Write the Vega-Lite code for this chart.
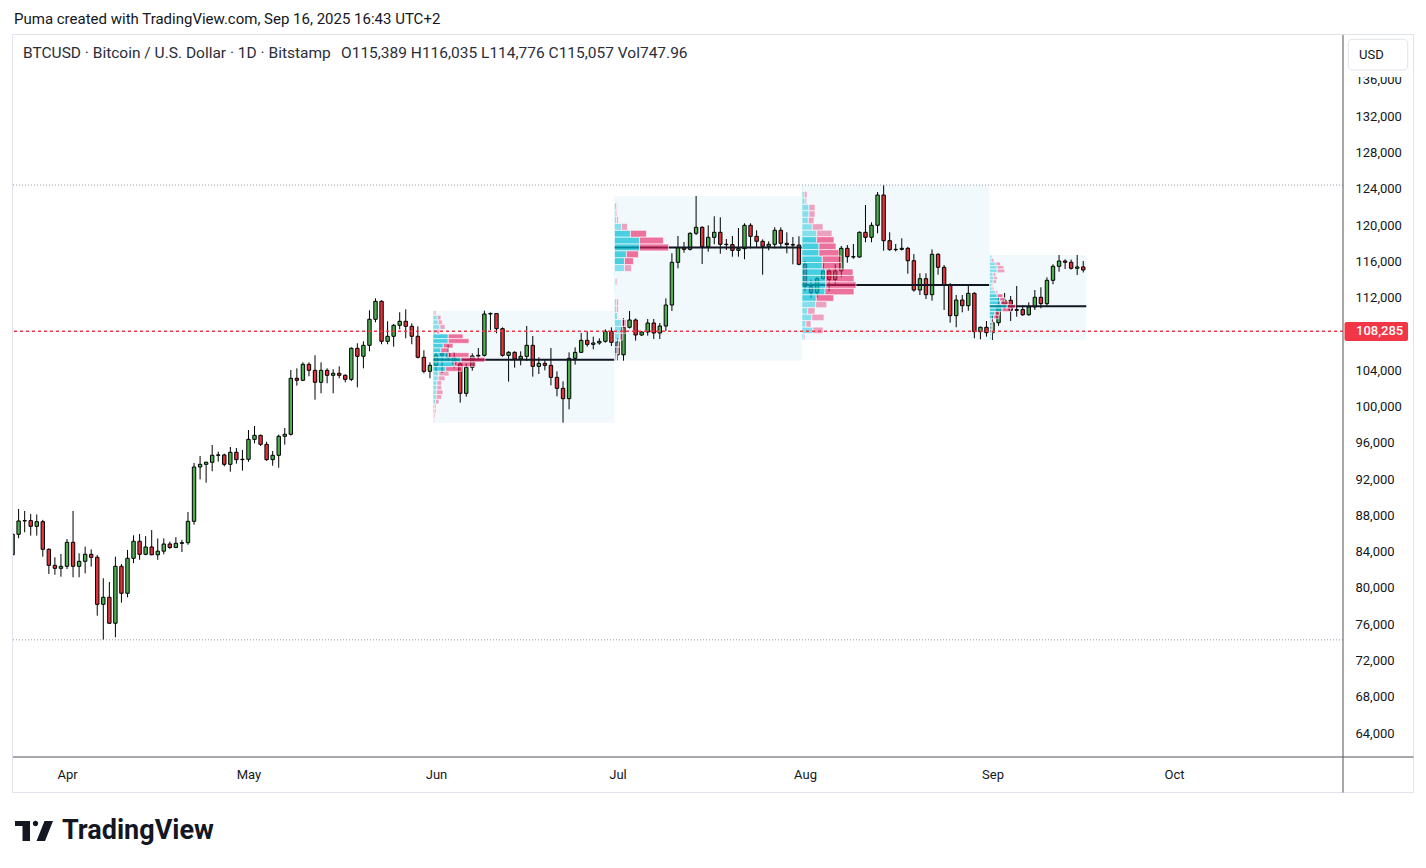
{
"$schema": "https://vega.github.io/schema/vega-lite/v6.json",
"width": 1330, "height": 722,
"autosize": "none",
"padding": {"left": 13, "top": 35, "right": 83, "bottom": 111},
"background": "#ffffff",
"config": {"view": {"stroke": null}, "font": "Roboto", "axis": {"labelFont": "Roboto"}, "text": {"font": "Roboto"}},
"datasets": {
"candles": [
{"d":"2025-03-23","o":83650,"h":86100,"l":83550,"c":85910},
{"d":"2025-03-24","o":85910,"h":88700,"l":85470,"c":87380},
{"d":"2025-03-25","o":87380,"h":88480,"l":86130,"c":87420},
{"d":"2025-03-26","o":87420,"h":88150,"l":85760,"c":86790},
{"d":"2025-03-27","o":86790,"h":88100,"l":85760,"c":87300},
{"d":"2025-03-28","o":87300,"h":87500,"l":83440,"c":84255},
{"d":"2025-03-29","o":84255,"h":84360,"l":81530,"c":82490},
{"d":"2025-03-30","o":82490,"h":83375,"l":81455,"c":82160},
{"d":"2025-03-31","o":82160,"h":83740,"l":81235,"c":82380},
{"d":"2025-04-01","o":82380,"h":85390,"l":82085,"c":85030},
{"d":"2025-04-02","o":85030,"h":88480,"l":81170,"c":82380},
{"d":"2025-04-03","o":82380,"h":83815,"l":81170,"c":82930},
{"d":"2025-04-04","o":82930,"h":84545,"l":81610,"c":83705},
{"d":"2025-04-05","o":83705,"h":84255,"l":82340,"c":83375},
{"d":"2025-04-06","o":83375,"h":83630,"l":76940,"c":78190},
{"d":"2025-04-07","o":78190,"h":81060,"l":74255,"c":78965},
{"d":"2025-04-08","o":78965,"h":80650,"l":76020,"c":76100},
{"d":"2025-04-09","o":76100,"h":83440,"l":74555,"c":82380},
{"d":"2025-04-10","o":82380,"h":82630,"l":78370,"c":79405},
{"d":"2025-04-11","o":79405,"h":84180,"l":78965,"c":83265},
{"d":"2025-04-12","o":83265,"h":85800,"l":82740,"c":85140},
{"d":"2025-04-13","o":85140,"h":85940,"l":83100,"c":83700},
{"d":"2025-04-14","o":83700,"h":85700,"l":83600,"c":84510},
{"d":"2025-04-15","o":84510,"h":86380,"l":83600,"c":83650},
{"d":"2025-04-16","o":83650,"h":85450,"l":83100,"c":84050},
{"d":"2025-04-17","o":84050,"h":85450,"l":83700,"c":84840},
{"d":"2025-04-18","o":84840,"h":85100,"l":84300,"c":84450},
{"d":"2025-04-19","o":84450,"h":85600,"l":84400,"c":84915},
{"d":"2025-04-20","o":84915,"h":85300,"l":83950,"c":84985},
{"d":"2025-04-21","o":84985,"h":88370,"l":84760,"c":87340},
{"d":"2025-04-22","o":87340,"h":93770,"l":86970,"c":93330},
{"d":"2025-04-23","o":93330,"h":94540,"l":91970,"c":93625},
{"d":"2025-04-24","o":93625,"h":93920,"l":91600,"c":93850},
{"d":"2025-04-25","o":93850,"h":95755,"l":92855,"c":94620},
{"d":"2025-04-26","o":94620,"h":95020,"l":93920,"c":94660},
{"d":"2025-04-27","o":94660,"h":94800,"l":93400,"c":93625},
{"d":"2025-04-28","o":93625,"h":95535,"l":92810,"c":94950},
{"d":"2025-04-29","o":94950,"h":95425,"l":93700,"c":94140},
{"d":"2025-04-30","o":94140,"h":95200,"l":92925,"c":94180},
{"d":"2025-05-01","o":94180,"h":97410,"l":93900,"c":96380},
{"d":"2025-05-02","o":96380,"h":97850,"l":95940,"c":96820},
{"d":"2025-05-03","o":96820,"h":96900,"l":95645,"c":95830},
{"d":"2025-05-04","o":95830,"h":96120,"l":94000,"c":94140},
{"d":"2025-05-05","o":94140,"h":95090,"l":93475,"c":94620},
{"d":"2025-05-06","o":94620,"h":96900,"l":93250,"c":96715},
{"d":"2025-05-07","o":96715,"h":97630,"l":95790,"c":96935},
{"d":"2025-05-08","o":96935,"h":104025,"l":96800,"c":103110},
{"d":"2025-05-09","o":103110,"h":104210,"l":102295,"c":102890},
{"d":"2025-05-10","o":102890,"h":104870,"l":102800,"c":104650},
{"d":"2025-05-11","o":104650,"h":104870,"l":103330,"c":103990},
{"d":"2025-05-12","o":103990,"h":105645,"l":100750,"c":102670},
{"d":"2025-05-13","o":102670,"h":104870,"l":101455,"c":103990},
{"d":"2025-05-14","o":103990,"h":104210,"l":102560,"c":103440},
{"d":"2025-05-15","o":103440,"h":104100,"l":101455,"c":103660},
{"d":"2025-05-16","o":103660,"h":104430,"l":103110,"c":103440},
{"d":"2025-05-17","o":103440,"h":103550,"l":102670,"c":102995},
{"d":"2025-05-18","o":102995,"h":106525,"l":102800,"c":106415},
{"d":"2025-05-19","o":106415,"h":106970,"l":102115,"c":105535},
{"d":"2025-05-20","o":105535,"h":107190,"l":104210,"c":106745},
{"d":"2025-05-21","o":106745,"h":110605,"l":106085,"c":109615},
{"d":"2025-05-22","o":109615,"h":111930,"l":109285,"c":111600},
{"d":"2025-05-23","o":111600,"h":111710,"l":106860,"c":107190},
{"d":"2025-05-24","o":107190,"h":109395,"l":106860,"c":107740},
{"d":"2025-05-25","o":107740,"h":109100,"l":106595,"c":108950},
{"d":"2025-05-26","o":108950,"h":110385,"l":108510,"c":109395},
{"d":"2025-05-27","o":109395,"h":110715,"l":107520,"c":108840},
{"d":"2025-05-28","o":108840,"h":109175,"l":106860,"c":107740},
{"d":"2025-05-29","o":107740,"h":108840,"l":105300,"c":105425},
{"d":"2025-05-30","o":105425,"h":106195,"l":103660,"c":103880},
{"d":"2025-05-31","o":103880,"h":104870,"l":103110,"c":104540},
{"d":"2025-06-01","o":104540,"h":105900,"l":103800,"c":105650},
{"d":"2025-06-02","o":105650,"h":105980,"l":103700,"c":105850},
{"d":"2025-06-03","o":105850,"h":106800,"l":105000,"c":105400},
{"d":"2025-06-04","o":105400,"h":106000,"l":104200,"c":104700},
{"d":"2025-06-05","o":104700,"h":105127,"l":100422,"c":101452},
{"d":"2025-06-06","o":101452,"h":104759,"l":101084,"c":104318},
{"d":"2025-06-07","o":104318,"h":105862,"l":103950,"c":105568},
{"d":"2025-06-08","o":105568,"h":106450,"l":105127,"c":105640},
{"d":"2025-06-09","o":105640,"h":110565,"l":105494,"c":110198},
{"d":"2025-06-10","o":110198,"h":110382,"l":108434,"c":110250},
{"d":"2025-06-11","o":110250,"h":110272,"l":108067,"c":108581},
{"d":"2025-06-12","o":108581,"h":108728,"l":105494,"c":105641},
{"d":"2025-06-13","o":105641,"h":106100,"l":102738,"c":105972},
{"d":"2025-06-14","o":105972,"h":106082,"l":104281,"c":105237},
{"d":"2025-06-15","o":105237,"h":106082,"l":104539,"c":105531},
{"d":"2025-06-16","o":105531,"h":108875,"l":105016,"c":106744},
{"d":"2025-06-17","o":106744,"h":107773,"l":103289,"c":104428},
{"d":"2025-06-18","o":104428,"h":105421,"l":103583,"c":104759},
{"d":"2025-06-19","o":104759,"h":105127,"l":103988,"c":104539},
{"d":"2025-06-20","o":104539,"h":106450,"l":102334,"c":103216},
{"d":"2025-06-21","o":103216,"h":103877,"l":101121,"c":102003},
{"d":"2025-06-22","o":102003,"h":102775,"l":98217,"c":100864},
{"d":"2025-06-23","o":100864,"h":105972,"l":99688,"c":105310},
{"d":"2025-06-24","o":105310,"h":106523,"l":104612,"c":105972},
{"d":"2025-06-25","o":105972,"h":108103,"l":105900,"c":107295},
{"d":"2025-06-26","o":107295,"h":108287,"l":106596,"c":106854},
{"d":"2025-06-27","o":106854,"h":107699,"l":106303,"c":107001},
{"d":"2025-06-28","o":107001,"h":107515,"l":106817,"c":107185},
{"d":"2025-06-29","o":107185,"h":108508,"l":107038,"c":108287},
{"d":"2025-06-30","o":108287,"h":108728,"l":106670,"c":107075},
{"d":"2025-07-01","o":107075,"h":107500,"l":105100,"c":105700},
{"d":"2025-07-02","o":105700,"h":109725,"l":105050,"c":108733},
{"d":"2025-07-03","o":108733,"h":110530,"l":108600,"c":109540},
{"d":"2025-07-04","o":109540,"h":109700,"l":107260,"c":107883},
{"d":"2025-07-05","o":107883,"h":108300,"l":107780,"c":108214},
{"d":"2025-07-06","o":108214,"h":109647,"l":107810,"c":109206},
{"d":"2025-07-07","o":109206,"h":109647,"l":107442,"c":108103},
{"d":"2025-07-08","o":108103,"h":109206,"l":107442,"c":108875},
{"d":"2025-07-09","o":108875,"h":111925,"l":108324,"c":111190},
{"d":"2025-07-10","o":111190,"h":116890,"l":110530,"c":115898},
{"d":"2025-07-11","o":115898,"h":118800,"l":115236,"c":117510},
{"d":"2025-07-12","o":117510,"h":118140,"l":116956,"c":117330},
{"d":"2025-07-13","o":117330,"h":119200,"l":117200,"c":119095},
{"d":"2025-07-14","o":119095,"h":123208,"l":118908,"c":119757},
{"d":"2025-07-15","o":119757,"h":119870,"l":115710,"c":117620},
{"d":"2025-07-16","o":117620,"h":119977,"l":117067,"c":118650},
{"d":"2025-07-17","o":118650,"h":120970,"l":117885,"c":119205},
{"d":"2025-07-18","o":119205,"h":120860,"l":116846,"c":117885},
{"d":"2025-07-19","o":117885,"h":118467,"l":117254,"c":117850},
{"d":"2025-07-20","o":117850,"h":118800,"l":116515,"c":117215},
{"d":"2025-07-21","o":117215,"h":119680,"l":116515,"c":117400},
{"d":"2025-07-22","o":117400,"h":120200,"l":116230,"c":119977},
{"d":"2025-07-23","o":119977,"h":120200,"l":117440,"c":118765},
{"d":"2025-07-24","o":118765,"h":119426,"l":117550,"c":118213},
{"d":"2025-07-25","o":118213,"h":118430,"l":114530,"c":117660},
{"d":"2025-07-26","o":117660,"h":118213,"l":117215,"c":117885},
{"d":"2025-07-27","o":117885,"h":119757,"l":117440,"c":119426},
{"d":"2025-07-28","o":119426,"h":119757,"l":117440,"c":117995},
{"d":"2025-07-29","o":117995,"h":119205,"l":116890,"c":117850},
{"d":"2025-07-30","o":117850,"h":118688,"l":115677,"c":117800},
{"d":"2025-07-31","o":117800,"h":118765,"l":115567,"c":115677},
{"d":"2025-08-01","o":115677,"h":116050,"l":112700,"c":113250},
{"d":"2025-08-02","o":113250,"h":114000,"l":112000,"c":112550},
{"d":"2025-08-03","o":112550,"h":114300,"l":112000,"c":114090},
{"d":"2025-08-04","o":114090,"h":115786,"l":114000,"c":114939},
{"d":"2025-08-05","o":114939,"h":115200,"l":112700,"c":114000},
{"d":"2025-08-06","o":114000,"h":115700,"l":113350,"c":114950},
{"d":"2025-08-07","o":114950,"h":117700,"l":114250,"c":117442},
{"d":"2025-08-08","o":117442,"h":117805,"l":115855,"c":116515},
{"d":"2025-08-09","o":116515,"h":117915,"l":116300,"c":116480},
{"d":"2025-08-10","o":116480,"h":119300,"l":116400,"c":119205},
{"d":"2025-08-11","o":119205,"h":122215,"l":118103,"c":118655},
{"d":"2025-08-12","o":118655,"h":120308,"l":118103,"c":119977},
{"d":"2025-08-13","o":119977,"h":123649,"l":119095,"c":123318},
{"d":"2025-08-14","o":123318,"h":124420,"l":117180,"c":118280},
{"d":"2025-08-15","o":118280,"h":119205,"l":117180,"c":117290},
{"d":"2025-08-16","o":117290,"h":117915,"l":117100,"c":117330},
{"d":"2025-08-17","o":117330,"h":118545,"l":117200,"c":117440},
{"d":"2025-08-18","o":117440,"h":117600,"l":114640,"c":116075},
{"d":"2025-08-19","o":116075,"h":116800,"l":112660,"c":112844},
{"d":"2025-08-20","o":112844,"h":114685,"l":112293,"c":114090},
{"d":"2025-08-21","o":114090,"h":114685,"l":111852,"c":112330},
{"d":"2025-08-22","o":112330,"h":117330,"l":111667,"c":116780},
{"d":"2025-08-23","o":116780,"h":116900,"l":114530,"c":115346},
{"d":"2025-08-24","o":115346,"h":115600,"l":110640,"c":113395},
{"d":"2025-08-25","o":113395,"h":113600,"l":109240,"c":110015},
{"d":"2025-08-26","o":110015,"h":112293,"l":108733,"c":111740},
{"d":"2025-08-27","o":111740,"h":112293,"l":110385,"c":111115},
{"d":"2025-08-28","o":111115,"h":113360,"l":110560,"c":112477},
{"d":"2025-08-29","o":112477,"h":112600,"l":107520,"c":108250},
{"d":"2025-08-30","o":108250,"h":108800,"l":107410,"c":108733},
{"d":"2025-08-31","o":108733,"h":109426,"l":107700,"c":108140},
{"d":"2025-09-01","o":108140,"h":110088,"l":107330,"c":109240},
{"d":"2025-09-02","o":109240,"h":112000,"l":108900,"c":111250},
{"d":"2025-09-03","o":111250,"h":112513,"l":110716,"c":111710},
{"d":"2025-09-04","o":111710,"h":112183,"l":109426,"c":110605},
{"d":"2025-09-05","o":110605,"h":113285,"l":109900,"c":110680},
{"d":"2025-09-06","o":110680,"h":111157,"l":109980,"c":110120},
{"d":"2025-09-07","o":110120,"h":111490,"l":110000,"c":110970},
{"d":"2025-09-08","o":110970,"h":112844,"l":110640,"c":112040},
{"d":"2025-09-09","o":112040,"h":113140,"l":110826,"c":111337},
{"d":"2025-09-10","o":111337,"h":114244,"l":110970,"c":113913},
{"d":"2025-09-11","o":113913,"h":115677,"l":113470,"c":115457},
{"d":"2025-09-12","o":115457,"h":116703,"l":114860,"c":116040},
{"d":"2025-09-13","o":116040,"h":116230,"l":115160,"c":115900},
{"d":"2025-09-14","o":115900,"h":116200,"l":115100,"c":115236},
{"d":"2025-09-15","o":115236,"h":116703,"l":114500,"c":115389},
{"d":"2025-09-16","o":115389,"h":116035,"l":114776,"c":115057}
],
"boxes": [
{"m":"Jun","d":"2025-05-31T12:00:00Z","d2":"2025-06-30T12:00:00Z","lo":98217,"hi":110565,"poc":105163},
{"m":"Jul","d":"2025-06-30T12:00:00Z","d2":"2025-07-31T12:00:00Z","lo":105050,"hi":123208,"poc":117533},
{"m":"Aug","d":"2025-07-31T12:00:00Z","d2":"2025-08-31T12:00:00Z","lo":107330,"hi":124420,"poc":113382},
{"m":"Sep","d":"2025-08-31T12:00:00Z","d2":"2025-09-16T12:00:00Z","lo":107330,"hi":116703,"poc":111041}
],
"pjun": [
{"lo":110050,"hi":110565,"up":1.3,"all":3,"va":0},
{"lo":109536,"hi":110050,"up":4.3,"all":8,"va":0},
{"lo":109022,"hi":109536,"up":5.3,"all":9.3,"va":0},
{"lo":108507,"hi":109022,"up":7,"all":12,"va":0},
{"lo":107993,"hi":108507,"up":3.3,"all":6.7,"va":0},
{"lo":107478,"hi":107993,"up":15.3,"all":30,"va":1},
{"lo":106964,"hi":107478,"up":15.3,"all":36,"va":1},
{"lo":106449,"hi":106964,"up":10.3,"all":20,"va":1},
{"lo":105935,"hi":106449,"up":8,"all":15.3,"va":1},
{"lo":105420,"hi":105935,"up":15.3,"all":36,"va":1},
{"lo":104906,"hi":105420,"up":28,"all":52,"va":1},
{"lo":104391,"hi":104906,"up":21.3,"all":42.7,"va":1},
{"lo":103877,"hi":104391,"up":12.7,"all":28.7,"va":1},
{"lo":103362,"hi":103877,"up":6,"all":16,"va":0},
{"lo":102848,"hi":103362,"up":5.3,"all":12,"va":0},
{"lo":102333,"hi":102848,"up":4,"all":8.7,"va":0},
{"lo":101819,"hi":102333,"up":4,"all":8.7,"va":0},
{"lo":101304,"hi":101819,"up":3.3,"all":10,"va":0},
{"lo":100790,"hi":101304,"up":3.3,"all":8.7,"va":0},
{"lo":100275,"hi":100790,"up":2.7,"all":6,"va":0},
{"lo":99761,"hi":100275,"up":1.3,"all":3,"va":0},
{"lo":99246,"hi":99761,"up":1.3,"all":3,"va":0},
{"lo":98732,"hi":99246,"up":0.7,"all":2,"va":0},
{"lo":98217,"hi":98732,"up":0.7,"all":1.3,"va":0}
],
"pjul": [
{"lo":122451,"hi":123208,"up":0.7,"all":1,"va":0},
{"lo":121695,"hi":122451,"up":2,"all":3,"va":0},
{"lo":120938,"hi":121695,"up":1.7,"all":2.7,"va":0},
{"lo":120182,"hi":120938,"up":2.3,"all":4,"va":0},
{"lo":119425,"hi":120182,"up":7,"all":13,"va":0},
{"lo":118668,"hi":119425,"up":16,"all":32,"va":1},
{"lo":117912,"hi":118668,"up":25,"all":49,"va":1},
{"lo":117155,"hi":117912,"up":25,"all":54,"va":1},
{"lo":116399,"hi":117155,"up":12,"all":24,"va":1},
{"lo":115642,"hi":116399,"up":10,"all":19,"va":1},
{"lo":114885,"hi":115642,"up":10,"all":17,"va":0},
{"lo":114129,"hi":114885,"up":1,"all":1.3,"va":0},
{"lo":113372,"hi":114129,"up":1.7,"all":3,"va":0},
{"lo":112616,"hi":113372,"up":1,"all":1.3,"va":0},
{"lo":111859,"hi":112616,"up":0.5,"all":0.7,"va":0},
{"lo":111102,"hi":111859,"up":2,"all":4,"va":0},
{"lo":110346,"hi":111102,"up":2,"all":4,"va":0},
{"lo":109589,"hi":110346,"up":3,"all":4,"va":0},
{"lo":108833,"hi":109589,"up":7,"all":12,"va":0},
{"lo":108076,"hi":108833,"up":8,"all":12,"va":0},
{"lo":107319,"hi":108076,"up":5,"all":8,"va":0},
{"lo":106563,"hi":107319,"up":4,"all":6,"va":0},
{"lo":105806,"hi":106563,"up":2.7,"all":4,"va":0},
{"lo":105050,"hi":105806,"up":2,"all":2.7,"va":0}
],
"paug": [
{"lo":123708,"hi":124420,"up":1,"all":1.3,"va":0},
{"lo":122996,"hi":123708,"up":2.3,"all":5,"va":0},
{"lo":122284,"hi":122996,"up":3,"all":4.7,"va":0},
{"lo":121572,"hi":122284,"up":7,"all":13,"va":0},
{"lo":120860,"hi":121572,"up":7,"all":13,"va":0},
{"lo":120147,"hi":120860,"up":6.3,"all":12,"va":0},
{"lo":119435,"hi":120147,"up":10.3,"all":21,"va":0},
{"lo":118723,"hi":119435,"up":14.7,"all":30,"va":0},
{"lo":118011,"hi":118723,"up":14.7,"all":32,"va":1},
{"lo":117299,"hi":118011,"up":17,"all":34,"va":1},
{"lo":116587,"hi":117299,"up":17,"all":37,"va":1},
{"lo":115875,"hi":116587,"up":20.3,"all":39,"va":1},
{"lo":115163,"hi":115875,"up":20.3,"all":39.7,"va":1},
{"lo":114451,"hi":115163,"up":23.7,"all":51,"va":1},
{"lo":113739,"hi":114451,"up":23.7,"all":52,"va":1},
{"lo":113026,"hi":113739,"up":24,"all":54,"va":1},
{"lo":112314,"hi":113026,"up":23,"all":52,"va":1},
{"lo":111602,"hi":112314,"up":14.3,"all":31.7,"va":1},
{"lo":110890,"hi":111602,"up":13.7,"all":24.7,"va":0},
{"lo":110178,"hi":110890,"up":5.7,"all":13,"va":0},
{"lo":109466,"hi":110178,"up":9.7,"all":22,"va":0},
{"lo":108754,"hi":109466,"up":4,"all":9,"va":0},
{"lo":108042,"hi":108754,"up":11,"all":21,"va":0},
{"lo":107330,"hi":108042,"up":1.7,"all":3,"va":0}
],
"psep": [
{"lo":116313,"hi":116703,"up":1.7,"all":2.7,"va":0},
{"lo":115922,"hi":116313,"up":1.7,"all":4.3,"va":0},
{"lo":115532,"hi":115922,"up":6.3,"all":11,"va":0},
{"lo":115141,"hi":115532,"up":7.7,"all":14.3,"va":0},
{"lo":114751,"hi":115141,"up":7.7,"all":15.3,"va":0},
{"lo":114360,"hi":114751,"up":3.7,"all":6.3,"va":0},
{"lo":113970,"hi":114360,"up":4.3,"all":7.7,"va":0},
{"lo":113579,"hi":113970,"up":3.7,"all":7,"va":0},
{"lo":113189,"hi":113579,"up":2.7,"all":3.7,"va":0},
{"lo":112798,"hi":113189,"up":2.7,"all":4.3,"va":0},
{"lo":112408,"hi":112798,"up":6.3,"all":8.3,"va":0},
{"lo":112017,"hi":112408,"up":7.7,"all":13.3,"va":1},
{"lo":111627,"hi":112017,"up":10.3,"all":15,"va":1},
{"lo":111236,"hi":111627,"up":11,"all":19.3,"va":1},
{"lo":110846,"hi":111236,"up":17.7,"all":26,"va":1},
{"lo":110455,"hi":110846,"up":12.7,"all":21,"va":1},
{"lo":110065,"hi":110455,"up":5.3,"all":10,"va":1},
{"lo":109674,"hi":110065,"up":4.3,"all":9.3,"va":1},
{"lo":109284,"hi":109674,"up":1.7,"all":3.7,"va":0},
{"lo":108893,"hi":109284,"up":1.7,"all":3,"va":0},
{"lo":108503,"hi":108893,"up":1.7,"all":3,"va":0},
{"lo":108112,"hi":108503,"up":1.7,"all":2.7,"va":0},
{"lo":107722,"hi":108112,"up":1.7,"all":2.3,"va":0},
{"lo":107330,"hi":107722,"up":1.7,"all":2.3,"va":0}
]
},
"layer": [
{
"layer": [
{"data": {"name": "boxes"},
 "mark": {"type": "rect", "fill": "#f1f9fd", "clip": true},
 "encoding": {
  "x": {"field": "d", "type": "temporal", "title": null, "scale": {"type": "utc", "domain": [{"year":2025,"month":3,"date":23,"hours":1,"minutes":45,"utc":true},{"year":2025,"month":10,"date":28,"hours":22,"minutes":35,"utc":true}], "nice": false, "padding": 0},
        "axis": {"orient": "bottom", "values": [{"year":2025,"month":4,"date":1,"utc":true},{"year":2025,"month":5,"date":1,"utc":true},{"year":2025,"month":6,"date":1,"utc":true},{"year":2025,"month":7,"date":1,"utc":true},{"year":2025,"month":8,"date":1,"utc":true},{"year":2025,"month":9,"date":1,"utc":true},{"year":2025,"month":10,"date":1,"utc":true}],
                 "format": "%b", "labelFontSize": 13, "labelColor": "#131722", "ticks": false, "domain": false, "grid": false, "labelPadding": 11, "title": null, "labelFlush": false}},
  "x2": {"field": "d2"},
  "y": {"field": "lo", "type": "quantitative", "title": null, "scale": {"domain": [61356, 140959], "nice": false, "zero": false, "padding": 0},
        "axis": {"orient": "right", "values": [64000,68000,72000,76000,80000,84000,88000,92000,96000,100000,104000,112000,116000,120000,124000,128000,132000,136000],
                 "format": ",d", "labelFontSize": 13, "labelColor": "#131722", "ticks": false, "domain": false, "grid": false, "labelPadding": 12, "labelAlign": "left", "labelBaseline": "middle", "title": null}},
  "y2": {"field": "hi"}
 }},
{"data": {"name": "candles"},
 "mark": {"type": "rule", "color": "#000000", "strokeWidth": 1, "clip": true},
 "encoding": {
  "x": {"field": "d", "type": "temporal", "title": null},
  "y": {"field": "l", "type": "quantitative", "title": null},
  "y2": {"field": "h"}
 }},
{"data": {"name": "candles"},
 "mark": {"type": "bar", "width": 3.4, "stroke": "#000000", "strokeWidth": 1, "clip": true},
 "encoding": {
  "x": {"field": "d", "type": "temporal", "title": null},
  "y": {"field": "o", "type": "quantitative", "title": null},
  "y2": {"field": "c"},
  "fill": {"condition": {"test": "datum.c >= datum.o", "value": "#4caf50"}, "value": "#e0343a"}
 }},
{"data": {"name": "boxes"},
 "mark": {"type": "rule", "color": "#131722", "strokeWidth": 2, "clip": true},
 "encoding": {
  "x": {"field": "d", "type": "temporal", "title": null},
  "x2": {"field": "d2"},
  "y": {"field": "poc", "type": "quantitative", "title": null}
 }}
]
},
{
"data": {"name": "pjun"},
"encoding": {"y": {"field": "lo", "type": "quantitative", "title": null}, "y2": {"field": "hi"}},
"layer": [
 {"mark": {"type": "rect", "stroke": "#ffffff", "strokeWidth": 0.6},
  "encoding": {"x": {"field": "up", "type": "quantitative", "scale": {"domain": [-419.97, 910.03], "nice": false, "zero": false}, "axis": null}, "x2": {"datum": 0},
   "fill": {"condition": {"test": "datum.va == 1", "value": "rgba(0,188,212,0.7)"}, "value": "rgba(0,188,212,0.45)"}}},
 {"mark": {"type": "rect", "stroke": "#ffffff", "strokeWidth": 0.6},
  "encoding": {"x": {"field": "all", "type": "quantitative", "axis": null}, "x2": {"field": "up"},
   "fill": {"condition": {"test": "datum.va == 1", "value": "rgba(233,30,99,0.62)"}, "value": "rgba(233,30,99,0.4)"}}}
]
},
{
"data": {"name": "pjul"},
"encoding": {"y": {"field": "lo", "type": "quantitative", "title": null}, "y2": {"field": "hi"}},
"layer": [
 {"mark": {"type": "rect", "stroke": "#ffffff", "strokeWidth": 0.6},
  "encoding": {"x": {"field": "up", "type": "quantitative", "scale": {"domain": [-601.44, 728.56], "nice": false, "zero": false}, "axis": null}, "x2": {"datum": 0},
   "fill": {"condition": {"test": "datum.va == 1", "value": "rgba(0,188,212,0.7)"}, "value": "rgba(0,188,212,0.45)"}}},
 {"mark": {"type": "rect", "stroke": "#ffffff", "strokeWidth": 0.6},
  "encoding": {"x": {"field": "all", "type": "quantitative", "axis": null}, "x2": {"field": "up"},
   "fill": {"condition": {"test": "datum.va == 1", "value": "rgba(233,30,99,0.62)"}, "value": "rgba(233,30,99,0.4)"}}}
]
},
{
"data": {"name": "paug"},
"encoding": {"y": {"field": "lo", "type": "quantitative", "title": null}, "y2": {"field": "hi"}},
"layer": [
 {"mark": {"type": "rect", "stroke": "#ffffff", "strokeWidth": 0.6},
  "encoding": {"x": {"field": "up", "type": "quantitative", "scale": {"domain": [-789.0, 541.0], "nice": false, "zero": false}, "axis": null}, "x2": {"datum": 0},
   "fill": {"condition": {"test": "datum.va == 1", "value": "rgba(0,188,212,0.7)"}, "value": "rgba(0,188,212,0.45)"}}},
 {"mark": {"type": "rect", "stroke": "#ffffff", "strokeWidth": 0.6},
  "encoding": {"x": {"field": "all", "type": "quantitative", "axis": null}, "x2": {"field": "up"},
   "fill": {"condition": {"test": "datum.va == 1", "value": "rgba(233,30,99,0.62)"}, "value": "rgba(233,30,99,0.4)"}}}
]
},
{
"data": {"name": "psep"},
"encoding": {"y": {"field": "lo", "type": "quantitative", "title": null}, "y2": {"field": "hi"}},
"layer": [
 {"mark": {"type": "rect", "stroke": "#ffffff", "strokeWidth": 0.6},
  "encoding": {"x": {"field": "up", "type": "quantitative", "scale": {"domain": [-976.5, 353.5], "nice": false, "zero": false}, "axis": null}, "x2": {"datum": 0},
   "fill": {"condition": {"test": "datum.va == 1", "value": "rgba(0,188,212,0.7)"}, "value": "rgba(0,188,212,0.45)"}}},
 {"mark": {"type": "rect", "stroke": "#ffffff", "strokeWidth": 0.6},
  "encoding": {"x": {"field": "all", "type": "quantitative", "axis": null}, "x2": {"field": "up"},
   "fill": {"condition": {"test": "datum.va == 1", "value": "rgba(233,30,99,0.62)"}, "value": "rgba(233,30,99,0.4)"}}}
]
},
{
"data": {"values": [{}]},
"layer": [
 {"mark": {"type": "rule", "color": "#9598a1", "strokeWidth": 1, "strokeDash": [1, 2]},
  "encoding": {"y": {"datum": 124420, "type": "quantitative"}}},
 {"mark": {"type": "rule", "color": "#9598a1", "strokeWidth": 1, "strokeDash": [1, 2]},
  "encoding": {"y": {"datum": 74274, "type": "quantitative"}}},
 {"mark": {"type": "rule", "color": "#f23645", "strokeWidth": 1.5, "strokeDash": [3, 3]},
  "encoding": {"y": {"datum": 108285, "type": "quantitative"}}},
 {"mark": {"type": "rule", "color": "#e0e3eb", "strokeWidth": 1},
  "encoding": {
   "x": {"datum": {"year":2025,"month":3,"date":22,"hours":23,"minutes":46,"utc":true}, "type": "temporal", "scale": {"type": "utc", "domain": [{"year":2025,"month":3,"date":23,"hours":1,"minutes":45,"utc":true},{"year":2025,"month":10,"date":28,"hours":22,"minutes":35,"utc":true}], "nice": false, "padding": 0}, "axis": null},
   "x2": {"datum": {"year":2025,"month":11,"date":9,"hours":14,"minutes":24,"utc":true}},
   "y": {"datum": 141013, "type": "quantitative"}}},
 {"mark": {"type": "rule", "color": "#e0e3eb", "strokeWidth": 1},
  "encoding": {
   "x": {"datum": {"year":2025,"month":3,"date":22,"hours":23,"minutes":46,"utc":true}, "type": "temporal", "axis": null},
   "x2": {"datum": {"year":2025,"month":11,"date":9,"hours":14,"minutes":24,"utc":true}},
   "y": {"datum": 57443, "type": "quantitative"}}},
 {"mark": {"type": "rule", "color": "#e0e3eb", "strokeWidth": 1},
  "encoding": {
   "x": {"datum": {"year":2025,"month":3,"date":22,"hours":23,"minutes":46,"utc":true}, "type": "temporal", "axis": null},
   "y": {"datum": 141013, "type": "quantitative"},
   "y2": {"datum": 57443}}},
 {"mark": {"type": "rule", "color": "#e0e3eb", "strokeWidth": 1},
  "encoding": {
   "x": {"datum": {"year":2025,"month":11,"date":9,"hours":14,"minutes":24,"utc":true}, "type": "temporal", "axis": null},
   "y": {"datum": 141013, "type": "quantitative"},
   "y2": {"datum": 57443}}},
 {"mark": {"type": "rule", "color": "#50535e", "strokeWidth": 1},
  "encoding": {
   "x": {"datum": {"year":2025,"month":10,"date":28,"hours":22,"minutes":35,"utc":true}, "type": "temporal", "axis": null},
   "y": {"datum": 140959, "type": "quantitative"},
   "y2": {"datum": 57443}}},
 {"mark": {"type": "rule", "color": "#50535e", "strokeWidth": 1},
  "encoding": {
   "x": {"datum": {"year":2025,"month":3,"date":23,"hours":1,"minutes":45,"utc":true}, "type": "temporal", "axis": null},
   "x2": {"datum": {"year":2025,"month":11,"date":9,"hours":14,"minutes":24,"utc":true}},
   "y": {"datum": 61356, "type": "quantitative"}}},
 {"mark": {"type": "rect", "fill": "#f23645", "cornerRadius": 2},
  "encoding": {
   "x": {"datum": {"year":2025,"month":10,"date":29,"hours":4,"minutes":34,"utc":true}, "type": "temporal", "axis": null},
   "x2": {"datum": {"year":2025,"month":11,"date":8,"hours":16,"minutes":34,"utc":true}},
   "y": {"datum": 107221, "type": "quantitative"},
   "y2": {"datum": 109316}}},
 {"mark": {"type": "text", "text": "108,285", "color": "#ffffff", "fontSize": 13, "fontWeight": 500, "align": "left", "baseline": "middle"},
  "encoding": {
   "x": {"datum": {"year":2025,"month":10,"date":31,"hours":2,"minutes":10,"utc":true}, "type": "temporal", "axis": null},
   "y": {"datum": 108285, "type": "quantitative"}}},
 {"mark": {"type": "rect", "fill": "#ffffff"},
  "encoding": {
   "x": {"datum": {"year":2025,"month":10,"date":29,"hours":4,"minutes":34,"utc":true}, "type": "temporal", "axis": null},
   "x2": {"datum": {"year":2025,"month":11,"date":9,"hours":6,"minutes":0,"utc":true}},
   "y": {"datum": 136327, "type": "quantitative"},
   "y2": {"datum": 140900}}},
 {"mark": {"type": "rect", "fill": "#ffffff", "stroke": "#e0e3eb", "strokeWidth": 1, "cornerRadius": 4},
  "encoding": {
   "x": {"datum": {"year":2025,"month":10,"date":29,"hours":19,"minutes":40,"utc":true}, "type": "temporal", "axis": null},
   "x2": {"datum": {"year":2025,"month":11,"date":8,"hours":15,"minutes":22,"utc":true}},
   "y": {"datum": 137100, "type": "quantitative"},
   "y2": {"datum": 140484}}},
 {"mark": {"type": "text", "text": "USD", "color": "#131722", "fontSize": 13, "align": "left", "baseline": "middle"},
  "encoding": {
   "x": {"datum": {"year":2025,"month":10,"date":31,"hours":14,"minutes":10,"utc":true}, "type": "temporal", "axis": null},
   "y": {"datum": 138753, "type": "quantitative"}}},
 {"mark": {"type": "text", "text": "Puma created with TradingView.com, Sep 16, 2025 16:43 UTC+2", "color": "#131722", "fontSize": 15, "align": "left", "baseline": "middle"},
  "encoding": {
   "x": {"datum": {"year":2025,"month":3,"date":23,"hours":5,"minutes":43,"utc":true}, "type": "temporal", "axis": null},
   "y": {"datum": 142722, "type": "quantitative"}}},
 {"mark": {"type": "text", "text": "BTCUSD · Bitcoin / U.S. Dollar · 1D · Bitstamp", "color": "#2a2e39", "fontSize": 15.5, "align": "left", "baseline": "middle"},
  "encoding": {
   "x": {"datum": {"year":2025,"month":3,"date":24,"hours":17,"minutes":25,"utc":true}, "type": "temporal", "axis": null},
   "y": {"datum": 138973, "type": "quantitative"}}},
 {"mark": {"type": "text", "text": "O115,389 H116,035 L114,776 C115,057 Vol747.96", "color": "#2a2e39", "fontSize": 15.5, "align": "left", "baseline": "middle"},
  "encoding": {
   "x": {"datum": {"year":2025,"month":5,"date":16,"hours":7,"minutes":8,"utc":true}, "type": "temporal", "axis": null},
   "y": {"datum": 138973, "type": "quantitative"}}},
 {"mark": {"type": "point", "shape": "M-1,-0.526L-0.21,-0.526L-0.21,0.526L-0.605,0.526L-0.605,-0.263L-1,-0.263Z M-0.061,-0.395A0.14,0.14 0 1,0 0.219,-0.395A0.14,0.14 0 1,0 -0.061,-0.395Z M0.553,-0.526L1,-0.526L0.579,0.526L0.132,0.526Z", "size": 1444, "filled": true, "fill": "#131722", "strokeWidth": 0, "opacity": 1},
  "encoding": {
   "x": {"datum": {"year":2025,"month":3,"date":26,"hours":13,"minutes":5,"utc":true}, "type": "temporal", "axis": null},
   "y": {"datum": 53199, "type": "quantitative"}}},
 {"mark": {"type": "text", "text": "TradingView", "color": "#131722", "fontSize": 27, "fontWeight": "bold", "align": "left", "baseline": "middle"},
  "encoding": {
   "x": {"datum": {"year":2025,"month":3,"date":31,"hours":4,"minutes":9,"utc":true}, "type": "temporal", "axis": null},
   "y": {"datum": 53199, "type": "quantitative"}}}
]
}
],
"resolve": {"scale": {"x": "independent"}}
}
